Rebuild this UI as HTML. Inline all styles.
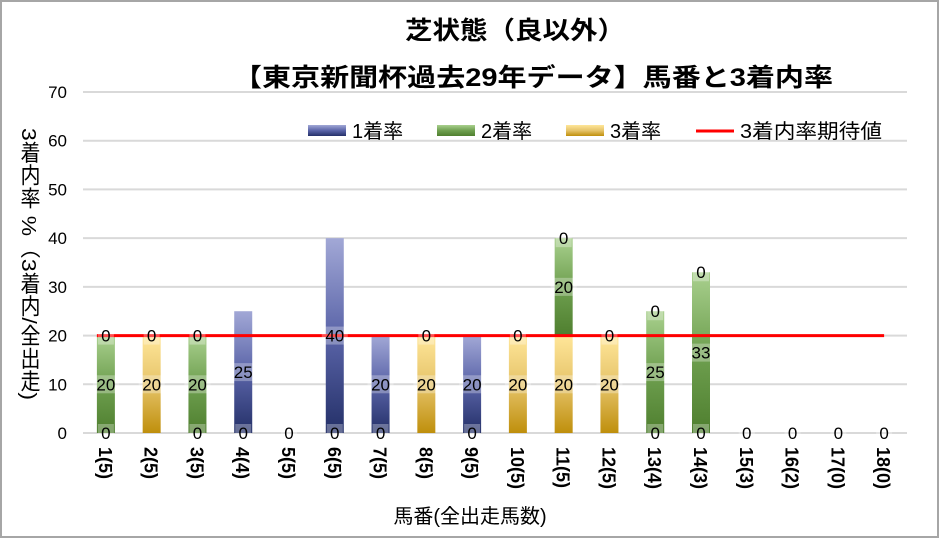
<!DOCTYPE html>
<html><head><meta charset="utf-8"><style>
html,body{margin:0;padding:0;background:#fff;}
svg{display:block;font-family:"Liberation Sans","Noto Sans CJK JP",sans-serif;}
</style></head><body>
<svg id="chart" width="940" height="539" viewBox="0 0 940 539">
<defs>
<linearGradient id="gB" x1="0" y1="1" x2="0" y2="0"><stop offset="0" stop-color="#243068"/><stop offset="0.5" stop-color="#5a64a8"/><stop offset="1" stop-color="#a2a8d6"/></linearGradient>
<linearGradient id="gG" x1="0" y1="1" x2="0" y2="0"><stop offset="0" stop-color="#4f7f2f"/><stop offset="0.5" stop-color="#6fa050"/><stop offset="1" stop-color="#a9d08e"/></linearGradient>
<linearGradient id="gY" x1="0" y1="1" x2="0" y2="0"><stop offset="0" stop-color="#bf8f0c"/><stop offset="0.5" stop-color="#e6c46a"/><stop offset="1" stop-color="#ffe699"/></linearGradient>
</defs>
<rect x="1" y="1" width="937" height="536" fill="#fff" stroke="#a6a6a6" stroke-width="2"/>
<text x="405" y="39" textLength="220" lengthAdjust="spacingAndGlyphs" font-size="25" font-weight="bold">芝状態（良以外）</text>
<text x="233" y="86" textLength="600" lengthAdjust="spacingAndGlyphs" font-size="25" font-weight="bold">【東京新聞杯過去29年データ】馬番と3着内率</text>
<g id="grid"></g>
<g id="bars"></g>
<g id="line"></g>
<g id="labels"></g>
<g id="xt"></g>
<g>
<rect x="308" y="125" width="38" height="11" fill="url(#gB)"/>
<text x="352" y="138" font-size="20">1着率</text>
<rect x="437" y="125" width="38" height="11" fill="url(#gG)"/>
<text x="481" y="138" font-size="20">2着率</text>
<rect x="566" y="125" width="38" height="11" fill="url(#gY)"/>
<text x="610" y="138" font-size="20">3着率</text>
<line x1="696" y1="131" x2="734" y2="131" stroke="#ff0000" stroke-width="3"/>
<text x="740" y="138" font-size="20" textLength="142" lengthAdjust="spacingAndGlyphs">3着内率期待値</text>
</g>
<text x="0" y="0" transform="translate(28,128)" style="writing-mode:vertical-rl" font-size="20" textLength="272" lengthAdjust="spacingAndGlyphs">3着内率 %（3着内/全出走)</text>
<text x="470" y="523" text-anchor="middle" font-size="20">馬番(全出走馬数)</text>
</svg>
<script>
const categories=["1(5)","2(5)","3(5)","4(4)","5(5)","6(5)","7(5)","8(5)","9(5)","10(5)","11(5)","12(5)","13(4)","14(3)","15(3)","16(2)","17(0)","18(0)"];
const rate1=[0,0,0,25,0,40,20,0,20,0,0,0,0,0,0,0,0,0];
const rate2=[20,0,20,0,0,0,0,0,0,0,20,0,25,33,0,0,0,0];
const rate3=[0,20,0,0,0,0,0,20,0,20,20,20,0,0,0,0,0,0];
const expected=[20];
const yTicks=[0,10,20,30,40,50,60,70];
const NS="http://www.w3.org/2000/svg";
const X0=83,X1=907,Y0=433,Y70=92;
const bw=(X1-X0)/categories.length;
function xc(i){return X0+bw*(i+0.5);}
function y(v){return Y0-(v/70)*(Y0-Y70);}
function mk(t,a,p){const e=document.createElementNS(NS,t);for(const k in a)e.setAttribute(k,a[k]);p.appendChild(e);return e;}
const grid=document.getElementById('grid');
yTicks.forEach(t=>{
 const l=mk('line',{x1:X0,x2:X1,y1:y(t),y2:y(t),stroke:'#d9d9d9','stroke-width':2},grid);
 
 
 const tx=mk('text',{x:67,y:y(t)+6,'text-anchor':'end','font-size':17},grid);
 tx.textContent=t;
 
 
});
const bars=document.getElementById('bars'),labs=document.getElementById('labels'),xt=document.getElementById('xt');
let curX=0;
function lab(txt,v,name){
 const g=mk('g',{},labs);
 
 
 const w=txt.length*10+6;
 mk('rect',{x:curX-w/2,y:y(v)-9,width:w,height:18,fill:'#fff','fill-opacity':0.3},g);
 const t=mk('text',{x:curX,y:y(v)+6,'text-anchor':'middle','font-size':17},g);
 t.textContent=txt;
}
categories.forEach((c,i)=>{
 curX=xc(i);
 const segs=[[rate1[i],'url(#gB)','1st'],[rate3[i],'url(#gY)','3rd'],[rate2[i],'url(#gG)','2nd']];
 let base=0;
 segs.forEach(s=>{
  if(s[0]>0){
   const r=mk('rect',{x:curX-9,y:y(base+s[0]),width:18,height:y(base)-y(base+s[0]),fill:s[1]},bars);
   
   
   lab(String(s[0]),base+s[0]/2,'label-'+s[2]+'-'+(i+1));
  }
  base+=s[0];
 });
 if(rate3[i]===0)lab('0',0,'label-zero-bottom-'+(i+1));
 if(rate1[i]===0&&base>0)lab('0',base,'label-zero-top-'+(i+1));
 const t=mk('text',{x:0,y:0,'font-size':18,'font-weight':'bold',transform:'translate('+(curX-7)+',447) rotate(90)'},xt);
 t.textContent=c;
 
 
});
const ln=mk('line',{x1:xc(0)-9,x2:xc(categories.length-1),y1:y(expected[0]),y2:y(expected[0]),stroke:'#ff0000','stroke-width':3},document.getElementById('line'));


document.getElementById('chart').appendChild(labs);
</script>
</body></html>
